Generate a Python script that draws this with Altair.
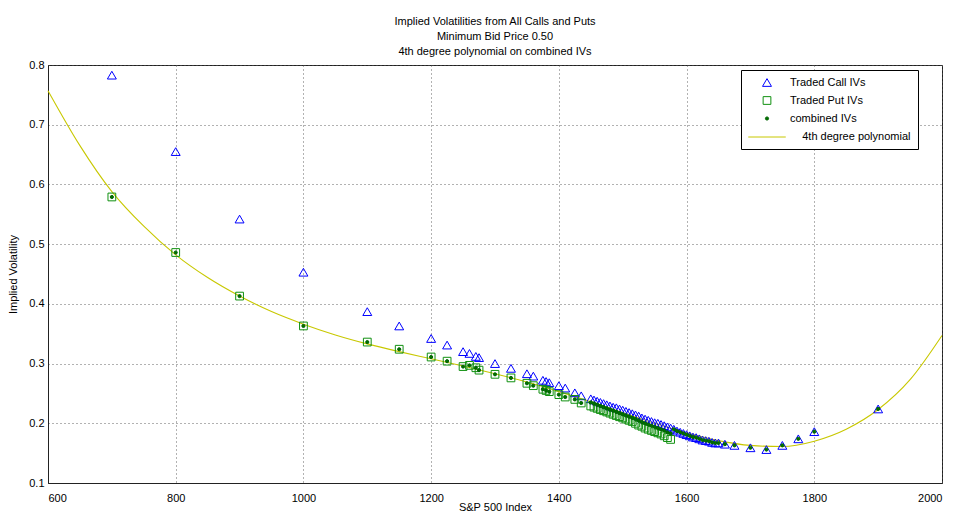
import altair as alt
import pandas as pd

# ---- data ----
call_strikes = [700, 800, 900, 1000, 1100, 1150, 1200, 1225, 1250, 1260, 1270, 1275,
                1300, 1325, 1350, 1360, 1375, 1380, 1385, 1400, 1410, 1425, 1435,
                1450, 1455, 1460, 1465, 1470, 1475, 1480, 1485, 1490, 1495, 1500,
                1505, 1510, 1515, 1520, 1525, 1530, 1535, 1540, 1545, 1550, 1555,
                1560, 1565, 1570, 1575,
                1580, 1585, 1590, 1595, 1600, 1605, 1610, 1615, 1620, 1625, 1630,
                1635, 1640, 1645, 1650, 1660, 1675, 1700, 1725, 1750, 1775, 1800, 1900]
call_iv = [0.783, 0.655, 0.542, 0.453, 0.387, 0.363, 0.342, 0.331, 0.320, 0.317, 0.312, 0.310,
           0.300, 0.292, 0.283, 0.279, 0.272, 0.270, 0.268, 0.263, 0.259, 0.251, 0.246,
           0.241, 0.239, 0.237, 0.235, 0.233, 0.231, 0.229, 0.227, 0.226, 0.224, 0.222,
           0.220, 0.218, 0.216, 0.214, 0.212, 0.209, 0.207, 0.205, 0.203, 0.201, 0.200,
           0.198, 0.196, 0.194, 0.192,
           0.190, 0.187, 0.185, 0.183, 0.181, 0.179, 0.177, 0.176, 0.174, 0.172, 0.171,
           0.170, 0.168, 0.167, 0.167, 0.165, 0.163, 0.159, 0.156, 0.163, 0.174, 0.186, 0.224]

put_strikes = [700, 800, 900, 1000, 1100, 1150, 1200, 1225, 1250, 1260, 1270, 1275,
               1300, 1325, 1350, 1360, 1375, 1380, 1385, 1400, 1410, 1425, 1435,
               1450, 1455, 1460, 1465, 1470, 1475, 1480, 1485, 1490, 1495, 1500,
               1505, 1510, 1515, 1520, 1525, 1530, 1535, 1540, 1545, 1550, 1555,
               1560, 1565, 1570, 1575]
put_iv = [0.579, 0.486, 0.413, 0.363, 0.336, 0.324, 0.311, 0.304, 0.295, 0.297, 0.293, 0.289,
          0.282, 0.276, 0.267, 0.263, 0.257, 0.255, 0.253, 0.248, 0.244, 0.240, 0.234,
          0.229, 0.227, 0.225, 0.223, 0.221, 0.219, 0.217, 0.215, 0.213, 0.211, 0.209,
          0.207, 0.205, 0.203, 0.200, 0.197, 0.195, 0.192, 0.190, 0.188, 0.186, 0.184,
          0.182, 0.179, 0.176, 0.173]

mid_iv = [0.235, 0.233, 0.231, 0.229, 0.227, 0.225, 0.223, 0.221, 0.219, 0.217, 0.215,
          0.213, 0.211, 0.209, 0.207, 0.205, 0.202, 0.200, 0.198, 0.196, 0.194, 0.192,
          0.190, 0.188, 0.185, 0.183]

combined_strikes = put_strikes + call_strikes[49:]
combined_iv = put_iv[:23] + mid_iv + call_iv[49:]

poly_x = [600, 650, 700, 750, 800, 850, 900, 950, 1000, 1050, 1100, 1150, 1200, 1250,
          1300, 1350, 1400, 1450, 1500, 1550, 1600, 1650, 1700, 1750, 1800, 1850,
          1900, 1950, 2000]
poly_y = [0.757, 0.665, 0.588, 0.530, 0.482, 0.444, 0.413, 0.387, 0.366, 0.348, 0.333,
          0.320, 0.308, 0.296, 0.283, 0.269, 0.253, 0.236, 0.218, 0.200, 0.184, 0.171,
          0.163, 0.161, 0.170, 0.190, 0.223, 0.273, 0.347]

series = ["Traded Call IVs", "Traded Put IVs", "combined IVs",
          "\u200b\u00a0\u00a0\u00a0\u00a04th degree polynomial"]

pts = pd.concat([
    pd.DataFrame({"strike": call_strikes, "iv": call_iv, "series": series[0], "o": 0}),
    pd.DataFrame({"strike": put_strikes, "iv": put_iv, "series": series[1], "o": 1}),
    pd.DataFrame({"strike": combined_strikes, "iv": combined_iv, "series": series[2], "o": 2}),
], ignore_index=True)
curve = pd.DataFrame({"strike": poly_x, "iv": poly_y, "series": series[3]})

FONT = "Liberation Sans"

x_enc = alt.X("strike:Q", scale=alt.Scale(domain=[600, 2000], nice=False, zero=False),
              axis=alt.Axis(title="S&P 500 Index", values=list(range(600, 2001, 200)),
                            format="d"))
y_enc = alt.Y("iv:Q", scale=alt.Scale(domain=[0.1, 0.8], nice=False, zero=False),
              axis=alt.Axis(title="Implied Volatility",
                            values=[0.1, 0.2, 0.3, 0.4, 0.5, 0.6, 0.7, 0.8], format=".1f",
                            titleX=-30, titleY=209))

stroke_scale = alt.Scale(domain=series, range=["#0000FF", "#109010", "#006400", "#C8C800"])
fill_scale = alt.Scale(domain=series, range=["transparent", "transparent", "#007000", "transparent"])
shape_scale = alt.Scale(domain=series,
                        range=["triangle-up", "square", "circle", "M-2.5,0L2.5,0"])
size_scale = alt.Scale(type="ordinal", domain=series, range=[80, 60, 10, 225])

legend = alt.Legend(title=None, orient="none", legendX=693, legendY=5)

points = alt.Chart(pts).mark_point(strokeWidth=1, opacity=1).encode(
    x=x_enc, y=y_enc,
    stroke=alt.Stroke("series:N", scale=stroke_scale, legend=legend),
    fill=alt.Fill("series:N", scale=fill_scale, legend=legend),
    shape=alt.Shape("series:N", scale=shape_scale, legend=legend),
    size=alt.Size("series:N", scale=size_scale, legend=legend),
    order=alt.Order("o:Q"),
)

line = alt.Chart(curve).mark_line(strokeWidth=1.1, interpolate="monotone").encode(
    x=x_enc, y=y_enc,
    stroke=alt.Stroke("series:N", scale=stroke_scale, legend=legend),
)

chart = alt.layer(line, points).properties(
    width=894, height=418,
    background="white",
    title=alt.TitleParams(
        text=["Implied Volatilities from All Calls and Puts", "Minimum Bid Price 0.50",
              "4th degree polynomial on combined IVs"],
        fontSize=11, fontWeight="normal", font=FONT, color="black", anchor="middle",
        lineHeight=15, offset=2, frame="group"),
    padding={"left": 48, "top": 65, "right": 13, "bottom": 30},
    autosize=alt.AutoSizeParams(type="none"),
).configure_view(
    stroke="#222", strokeWidth=1,
).configure_axis(
    labelFont=FONT, titleFont=FONT, labelFontSize=11, titleFontSize=11,
    titleFontWeight="normal", labelColor="black", titleColor="black",
    domainColor="#222", ticks=False, labelPadding=4,
    grid=True, gridColor="#555", gridDash=[1, 3], gridOpacity=0.9, gridWidth=1,
).configure_axisX(
    labelPadding=9, titlePadding=-2,
).configure_legend(
    strokeColor="black", fillColor="white",
    padding=7, labelFont=FONT, labelFontSize=11, labelColor="black",
    symbolOffset=11, labelOffset=15, rowPadding=5, symbolStrokeWidth=1, labelLimit=300,
)

chart.save("out.html", embed_options={"renderer": "svg", "actions": False})
